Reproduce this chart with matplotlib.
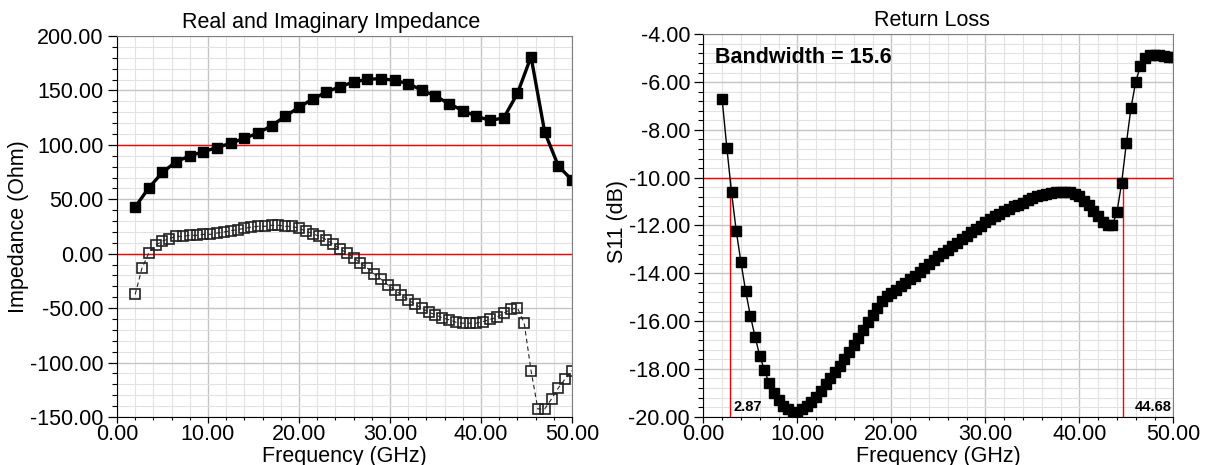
import numpy as np
import matplotlib
matplotlib.use("Agg")
import matplotlib.pyplot as plt
from matplotlib.ticker import MultipleLocator, FormatStrFormatter

plt.rcParams['font.family'] = ['Liberation Sans', 'DejaVu Sans']

# Impedance sweep (GHz) and values (Ohm)
freq_real = np.linspace(2, 50, 33)
real_z = [42.9, 60.5, 74.7, 84.6, 89.8, 93.8, 97.5, 101.5, 106.0, 110.8, 117.6,
          126.2, 134.6, 142.0, 148.5, 153.4, 157.7, 160.2, 160.8, 159.3, 156.2,
          150.3, 144.8, 137.7, 131.5, 126.2, 122.5, 124.7, 147.2, 180.9, 111.7,
          80.6, 67.6]

freq_imag = np.linspace(2, 50, 65)
imag_z = [-37.4, -13.2, 0.6, 7.7, 11.7, 13.8, 16.0, 16.0, 16.9, 16.9,
          17.8, 17.8, 19.0, 19.9, 21.2, 22.1, 23.3, 24.5, 25.2, 25.2,
          26.1, 26.1, 25.2, 25.2, 23.3, 20.9, 18.4, 16.0, 12.9, 8.6,
          4.6, 0.6, -3.7, -8.6, -13.2, -18.4, -23.3, -28.5, -33.1, -37.7,
          -42.3, -46.6, -50.0, -53.7, -56.1, -58.9, -60.7, -62.9, -63.8, -63.8,
          -63.8, -62.3, -60.4, -58.3, -54.6, -51.2, -49.7, -63.8, -107.4, -142.6,
          -142.6, -133.4, -123.3, -115.0, -107.4]

# Return loss sweep (GHz) and S11 (dB)
freq_s11 = np.linspace(2, 50, 97)
s11 = [-6.71, -8.74, -10.61, -12.22, -13.53, -14.74, -15.77, -16.65, -17.45, -18.05,
       -18.60, -19.00, -19.30, -19.55, -19.69, -19.79, -19.83, -19.69, -19.55, -19.37,
       -19.16, -18.91, -18.65, -18.40, -18.12, -17.86, -17.60, -17.28, -17.00, -16.69,
       -16.37, -16.05, -15.74, -15.46, -15.18, -14.97, -14.83, -14.69, -14.55, -14.41,
       -14.25, -14.11, -13.95, -13.78, -13.62, -13.46, -13.29, -13.15, -13.01, -12.87,
       -12.73, -12.57, -12.43, -12.29, -12.15, -12.01, -11.87, -11.73, -11.62, -11.51,
       -11.41, -11.30, -11.20, -11.14, -11.04, -10.95, -10.87, -10.78, -10.71, -10.67,
       -10.63, -10.60, -10.59, -10.59, -10.62, -10.69, -10.78, -10.96, -11.16, -11.40,
       -11.62, -11.85, -11.99, -12.00, -11.45, -10.22, -8.57, -7.07, -5.99, -5.32,
       -5.01, -4.87, -4.85, -4.87, -4.91, -4.94, -4.97]

band_low, band_high = 2.87, 44.68
bandwidth_text = "Bandwidth = 15.6"

fs = 15.5

fig = plt.figure(figsize=(12.07, 4.65), dpi=100)
ax1 = fig.add_axes([0.0969, 0.1032, 0.3770, 0.8194])
ax2 = fig.add_axes([0.5827, 0.1039, 0.3894, 0.8224])


def style_axes(ax, ymaj, ymin):
    ax.set_xlim(0, 50)
    ax.xaxis.set_major_locator(MultipleLocator(10))
    ax.xaxis.set_minor_locator(MultipleLocator(2))
    ax.yaxis.set_major_locator(MultipleLocator(ymaj))
    ax.yaxis.set_minor_locator(MultipleLocator(ymin))
    ax.xaxis.set_major_formatter(FormatStrFormatter('%.2f'))
    ax.yaxis.set_major_formatter(FormatStrFormatter('%.2f'))
    ax.grid(which='major', color='#c4c4c4', lw=1.0)
    ax.grid(which='minor', color='#e2e2e2', lw=0.8)
    ax.set_axisbelow(True)
    ax.tick_params(axis='both', which='major', labelsize=fs, direction='out', width=0.9)
    ax.tick_params(axis='y', which='major', length=6.5, pad=3)
    ax.tick_params(axis='y', which='minor', length=3.5, width=0.8)
    ax.tick_params(axis='x', which='major', length=4, pad=1)
    ax.tick_params(axis='x', which='minor', length=2.5, width=0.8)
    for s in ['top', 'right']:
        ax.spines[s].set_color('#808080')
    for s in ['left', 'bottom']:
        ax.spines[s].set_color('black')
    ax.set_xlabel('Frequency (GHz)', fontsize=fs, labelpad=1)


# Left: real and imaginary impedance
style_axes(ax1, 50, 10)
ax1.set_ylim(-150, 200)
ax1.axhline(100, color='red', lw=1.0)
ax1.axhline(0, color='red', lw=1.0)
ax1.plot(freq_imag, imag_z, ls=(0, (4, 3)), lw=0.8, color='#222222',
         marker='s', ms=6.5, mfc='none', mec='#222222', mew=1.2)
ax1.plot(freq_real, real_z, '-', lw=2.4, color='black',
         marker='s', ms=6.5, mfc='black', mec='black')
ax1.set_title('Real and Imaginary Impedance', fontsize=fs, pad=6, x=0.47)
ax1.set_ylabel('Impedance (Ohm)', fontsize=fs)
ax1.yaxis.set_label_coords(-0.193, 0.5)

# Right: return loss
style_axes(ax2, 2, 0.4)
ax2.set_ylim(-20, -4)
ax2.axhline(-10, color='red', lw=1.0)
ax2.plot([band_low, band_low], [-20, -10], color='red', lw=1.0)
ax2.plot([band_high, band_high], [-20, -10], color='red', lw=1.0)
ax2.plot(freq_s11, s11, '-', lw=1.0, color='black',
         marker='s', ms=6.5, mfc='black', mec='black')
ax2.set_title('Return Loss', fontsize=fs, pad=6, x=0.486)
ax2.set_ylabel('S11 (dB)', fontsize=fs)
ax2.yaxis.set_label_coords(-0.160, 0.51)
ax2.text(0.025, 0.94, bandwidth_text, transform=ax2.transAxes, fontsize=fs,
         fontweight='bold', ha='left', va='center')
ax2.text(band_low + 0.35, -19.6, f'{band_low:.2f}', fontsize=10.5,
         fontweight='bold', ha='left', va='center')
ax2.text(49.8, -19.6, f'{band_high:.2f}', fontsize=10.5,
         fontweight='bold', ha='right', va='center')

fig.savefig('out.png', dpi=100)
